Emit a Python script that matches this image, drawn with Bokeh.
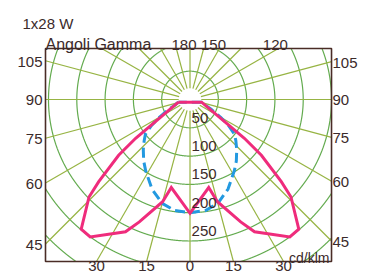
import numpy as np
from bokeh.plotting import figure
from bokeh.core.properties import value
from bokeh.embed import file_html
from bokeh.resources import INLINE

# ---- data (cd/klm vs gamma angle, degrees) ----
magenta_gamma = [0, 12, 15, 22.5, 26, 36, 40, 46, 48, 52, 54.5, 77]
magenta_cd = [201, 159, 187, 234, 260, 300, 299, 248, 217, 160, 118, 21]
blue_gamma = [0, 8, 15, 23, 32, 37, 43, 48, 52, 56, 60, 65, 70, 77]
blue_cd = [200, 198, 190, 172, 148, 136, 121, 109, 100, 82, 62, 42, 28, 21]

ring_labels = [50, 100, 150, 200, 250]
grid_rings = [50, 100, 150, 200, 250, 300, 350, 400]
radial_angles = list(range(0, 360, 15))
side_ticks = [105, 90, 75, 60, 45]
bottom_ticks = [-30, -15, 0, 15, 30]
top_ticks = [180, 150, 120]
top_shift = [-6, -6, -3]
title_text = "1x28 W"
axis_title = "Angoli Gamma"
unit_text = "cd/klm"

TEXT = "#3b2a2a"
FONT = value("Liberation Sans")

# diagram box (cd/klm units, centre of the polar grid at 0,0)
X0, X1 = -255.3, 250.0
Y0, Y1 = -286.2, 90.1

p = figure(width=369, height=277, x_range=(-334.8, 317.1),
           y_range=(-314.5, 174.9),
           x_axis_location=None, y_axis_location=None,
           toolbar_location=None, output_backend="svg",
           min_border_left=0, min_border_right=0,
           min_border_top=0, min_border_bottom=0)
p.grid.grid_line_color = None
p.outline_line_color = None
p.background_fill_color = "white"
p.border_fill_color = "white"


def inside(x, y):
    return (x >= X0) & (x <= X1) & (y >= Y0) & (y <= Y1)


# rings, kept inside the box
ring_xs, ring_ys = [], []
t = np.linspace(0, 2 * np.pi, 7201)
for r in grid_rings:
    x = r * np.sin(t)
    y = r * np.cos(t)
    m = inside(x, y)
    seg_x, seg_y = [], []
    for xi, yi, mi in zip(x, y, m):
        if mi:
            seg_x.append(float(xi))
            seg_y.append(float(yi))
        elif seg_x:
            ring_xs.append(seg_x)
            ring_ys.append(seg_y)
            seg_x, seg_y = [], []
    if seg_x:
        ring_xs.append(seg_x)
        ring_ys.append(seg_y)
p.multi_line(ring_xs, ring_ys, line_color="#63ab4f", line_width=1.2)

# radial lines, from a small inner radius to the box edge
r_in = 20
rx, ry = [], []
for a in radial_angles:
    g = np.radians(a)
    dx, dy = np.sin(g), -np.cos(g)
    lims = []
    if dx > 1e-9:
        lims.append(X1 / dx)
    if dx < -1e-9:
        lims.append(X0 / dx)
    if dy > 1e-9:
        lims.append(Y1 / dy)
    if dy < -1e-9:
        lims.append(Y0 / dy)
    r_out = min(lims)
    rx.append([r_in * dx, r_out * dx])
    ry.append([r_in * dy, r_out * dy])
p.multi_line(rx, ry, line_color="#97b443", line_width=1.2)


def polar_curve(gam, cd):
    g = np.radians(gam)
    r = np.array(cd, dtype=float)
    xr = r * np.sin(g)
    yr = -r * np.cos(g)
    x = np.concatenate([-xr[::-1], xr[1:]])
    y = np.concatenate([yr[::-1], yr[1:]])
    x = np.append(x, x[0])
    y = np.append(y, y[0])
    return list(x), list(y)


bx, by = polar_curve(blue_gamma, blue_cd)
p.line(bx, by, line_color="#2399e0", line_width=3, line_dash="10 5")
mx, my = polar_curve(magenta_gamma, magenta_cd)
p.line(mx, my, line_color="#ef2c7c", line_width=3, line_join="miter")

# box outline
p.quad(left=[X0], right=[X1], bottom=[Y0], top=[Y1], fill_color=None,
       line_color="#4a2c26", line_width=1.6)

common = dict(text_font=FONT, text_color=TEXT, text_font_size="15px")

# ring value labels
p.text(x=[2.7] * len(ring_labels), y=[-v for v in ring_labels],
       text=[str(v) for v in ring_labels], text_align="left",
       text_baseline="alphabetic", y_offset=-10, **common)

# side tick labels (where the gamma rays meet the box sides)
g = np.radians(side_ticks)
p.text(x=[X0] * len(side_ticks), y=list(X0 * np.cos(g) / np.sin(g)),
       text=[str(v) for v in side_ticks], text_align="right",
       text_baseline="middle", x_offset=-3, y_offset=1, **common)
p.text(x=[X1] * len(side_ticks), y=list(-X1 * np.cos(g) / np.sin(g)),
       text=[str(v) for v in side_ticks], text_align="left",
       text_baseline="middle", x_offset=1, y_offset=1, **common)
# bottom tick labels
g = np.radians(bottom_ticks)
p.text(x=list(-Y0 * np.tan(g)), y=[Y0] * len(bottom_ticks),
       text=[str(abs(v)) for v in bottom_ticks], text_align="center",
       text_baseline="top", y_offset=0, **common)
# top tick labels
g = np.radians([180 - v for v in top_ticks])
p.text(x=list(Y1 * np.tan(g)), y=[Y1] * len(top_ticks),
       text=[str(v) for v in top_ticks], text_align="center",
       text_baseline="alphabetic", x_offset=top_shift, y_offset=-3,
       **common)

p.text(x=[X0], y=[Y1], text=[axis_title], text_align="left",
       text_baseline="alphabetic", y_offset=-3.5, text_font=FONT,
       text_color=TEXT, text_font_size="16px")
p.text(x=[X0], y=[Y1], text=[title_text], text_align="left",
       text_baseline="alphabetic", x_offset=-23, y_offset=-25, **common)
p.text(x=[X1], y=[Y0], text=[unit_text], text_align="right",
       text_baseline="alphabetic", x_offset=-2, y_offset=-3,
       text_font=FONT, text_color=TEXT, text_font_size="14px")

open("out.html", "w").write(file_html(p, INLINE))
